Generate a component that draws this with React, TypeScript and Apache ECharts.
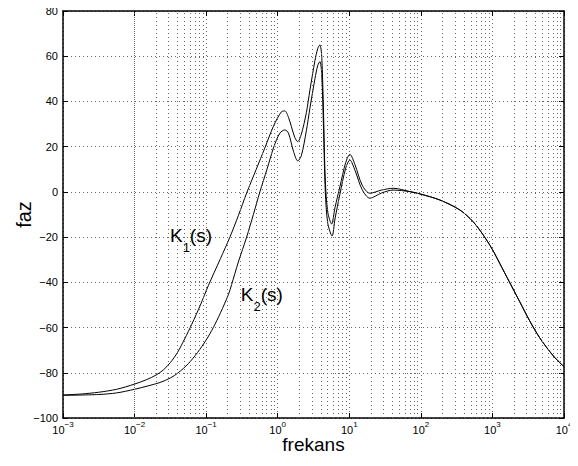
import React, { useEffect, useRef } from "react";
import * as echarts from "echarts";

// log10 of frequency and phase (deg)
const k1LogFreq = [-3.0, -2.75, -2.5, -2.25, -2.0, -1.83, -1.7, -1.6, -1.5, -1.4, -1.3, -1.2, -1.08, -0.97, -0.8, -0.668, -0.55, -0.434, -0.3, -0.179, -0.06, 0.054, 0.1, 0.15, 0.19, 0.24, 0.28, 0.33, 0.4, 0.45, 0.52, 0.56, 0.589, 0.615, 0.64, 0.665, 0.7, 0.753, 0.8, 0.869, 0.95, 1.008, 1.08, 1.18, 1.288, 1.45, 1.613, 1.85, 2.0, 2.266, 2.545, 2.73, 2.87, 3.0, 3.1, 3.24, 3.38, 3.52, 3.66, 3.85, 4.0];
const k1Phase = [-89.8, -89.4, -88.6, -87.3, -85, -83, -81, -78.8, -75.5, -71, -65, -58.5, -50, -41.5, -29.5, -20, -10.5, -0.5, 10, 19.5, 29, 35.5, 35.8, 33, 29, 24, 22.2, 25.5, 35, 45, 58, 63.5, 65, 60, 35, 5, -9, -14.2, -7, 2.3, 13, 16.6, 12, 3, -0.6, 0.8, 1.6, 0.1, -1, -3.6, -8, -13.2, -19, -25.5, -31.5, -40, -48.5, -57, -64.5, -72.5, -77.3];

const k2LogFreq = [-3.0, -2.5, -2.25, -2.0, -1.8, -1.645, -1.5, -1.39, -1.25, -1.12, -1.0, -0.9, -0.8, -0.69, -0.644, -0.55, -0.434, -0.34, -0.249, -0.15, -0.053, 0.03, 0.1, 0.15, 0.22, 0.28, 0.33, 0.4, 0.45, 0.52, 0.56, 0.589, 0.615, 0.64, 0.665, 0.7, 0.76, 0.8, 0.869, 0.95, 1.008, 1.08, 1.18, 1.288, 1.45, 1.613, 1.85, 2.0, 2.266, 2.545, 2.73, 2.87, 3.0, 3.1, 3.24, 3.38, 3.52, 3.66, 3.85, 4.0];
const k2Phase = [-90, -89.6, -88.9, -87.3, -85.7, -84.3, -82.3, -80, -76, -71, -65.5, -60, -53.5, -45.5, -41, -31, -20, -10, 0, 10, 20, 26, 27.4, 26, 18, 13.7, 16, 27, 37, 50, 56, 57.6, 52, 28, 0, -14, -19.5, -12, -1, 10.5, 14.1, 9.5, 1, -2.8, -0.5, 0.8, 0.1, -1, -3.6, -8, -13.2, -19, -25.5, -31.5, -40, -48.5, -57, -64.5, -72.5, -77.3];

const minorGridFreqs = [
  0.002, 0.003, 0.004, 0.005, 0.006, 0.007, 0.008, 0.009,
  0.02, 0.03, 0.04, 0.05, 0.06, 0.07, 0.08, 0.09,
  0.2, 0.3, 0.4, 0.5, 0.6, 0.7, 0.8, 0.9,
  2, 3, 4, 5, 6, 7, 8, 9,
  20, 30, 40, 50, 60, 70, 80, 90,
  200, 300, 400, 500, 600, 700, 800, 900,
  2000, 3000, 4000, 5000, 6000, 7000, 8000, 9000,
];

const xMin = 0.001;
const xMax = 10000;
const yMin = -100;
const yMax = 80;
const yInterval = 20;

const FONT = "Liberation Sans";
const gridDot = { type: [1, 3] as any, color: "#666", width: 1 };

export default function App() {
  const ref = useRef<HTMLDivElement>(null);
  useEffect(() => {
    if (!ref.current) return;
    const chart = echarts.init(ref.current, undefined, { renderer: "svg" });
    const k1 = k1LogFreq.map((e, i) => [Math.pow(10, e), k1Phase[i]]);
    const k2 = k2LogFreq.map((e, i) => [Math.pow(10, e), k2Phase[i]]);
    const labelRich = {
      a: { fontSize: 19, fontFamily: FONT, color: "#000", lineHeight: 20, verticalAlign: "top" },
      sub: { fontSize: 13, fontFamily: FONT, color: "#000", lineHeight: 13, verticalAlign: "top", padding: [15, 0, 0, 0] },
    };
    const tickRich = {
      b: { fontSize: 11, fontFamily: FONT, color: "#000", lineHeight: 11, verticalAlign: "top", padding: [4, 0, 0, 0] },
      s: { fontSize: 8, fontFamily: FONT, color: "#000", lineHeight: 8, verticalAlign: "top" },
    };
    const boxAxisLine = { show: true, onZero: false, lineStyle: { color: "#000", width: 1.5 } };
    const tick = { show: true, inside: true, length: 5, lineStyle: { color: "#000" } };
    chart.setOption({
      animation: false,
      backgroundColor: "#fff",
      grid: { left: 63, right: 14, top: 11, bottom: 48, containLabel: false },
      xAxis: [
        {
          type: "log",
          logBase: 10,
          min: xMin,
          max: xMax,
          splitNumber: 7,
          name: "frekans",
          nameLocation: "middle",
          nameGap: 17,
          nameMoveOverlap: false,
          nameTextStyle: { fontSize: 19, lineHeight: 18, fontFamily: FONT, color: "#000", verticalAlign: "top" },
          axisLine: boxAxisLine,
          axisTick: tick,
          axisLabel: {
            margin: 2,
            formatter: (v: number) => {
              const e = Math.round(Math.log10(v));
              const es = e < 0 ? "−" + Math.abs(e) : String(e);
              return `{b|10}{s|${es}}`;
            },
            rich: tickRich,
          },
          splitLine: { show: true, lineStyle: gridDot },
        },
        {
          type: "log",
          logBase: 10,
          min: xMin,
          max: xMax,
          splitNumber: 7,
          position: "top",
          axisLine: boxAxisLine,
          axisTick: tick,
          axisLabel: { show: false },
          splitLine: { show: false },
        },
      ],
      yAxis: [
        {
          type: "value",
          min: yMin,
          max: yMax,
          interval: yInterval,
          name: "faz",
          nameLocation: "middle",
          nameGap: 29,
          nameMoveOverlap: false,
          nameTextStyle: { fontSize: 20, fontFamily: FONT, color: "#000" },
          axisLine: boxAxisLine,
          axisTick: tick,
          axisLabel: {
            margin: 5,
            fontSize: 11,
            fontFamily: FONT,
            color: "#000",
            formatter: (v: number) => (v < 0 ? "−" + Math.abs(v) : String(v)),
          },
          splitLine: { show: true, lineStyle: gridDot },
        },
        {
          type: "value",
          min: yMin,
          max: yMax,
          interval: yInterval,
          position: "right",
          axisLine: boxAxisLine,
          axisTick: tick,
          axisLabel: { show: false },
          splitLine: { show: false },
        },
      ],
      series: [
        {
          type: "line",
          data: [[xMin, yMin]],
          showSymbol: false,
          lineStyle: { opacity: 0 },
          silent: true,
          markLine: {
            silent: true,
            symbol: ["none", "none"],
            label: { show: false },
            lineStyle: gridDot,
            data: minorGridFreqs.map((f) => ({ xAxis: f })),
          },
        },
        {
          name: "K1",
          type: "line",
          data: k1,
          showSymbol: false,
          smooth: 0.3,
          lineStyle: { color: "#000", width: 1 },
          markPoint: {
            symbol: "rect",
            symbolSize: 1,
            itemStyle: { color: "rgba(0,0,0,0)" },
            label: { show: true, position: "inside", formatter: "{a|K}{sub|1}{a|(s)}", rich: labelRich },
            data: [{ coord: [0.0614, -19.3] }],
          },
        },
        {
          name: "K2",
          type: "line",
          data: k2,
          showSymbol: false,
          smooth: 0.3,
          lineStyle: { color: "#000", width: 1 },
          markPoint: {
            symbol: "rect",
            symbolSize: 1,
            itemStyle: { color: "rgba(0,0,0,0)" },
            label: { show: true, position: "inside", formatter: "{a|K}{sub|2}{a|(s)}", rich: labelRich },
            data: [{ coord: [0.6, -45.8] }],
          },
        },
      ],
    });
    return () => chart.dispose();
  }, []);
  return <div ref={ref} style={{ width: 578, height: 466, margin: -8 }} />;
}
